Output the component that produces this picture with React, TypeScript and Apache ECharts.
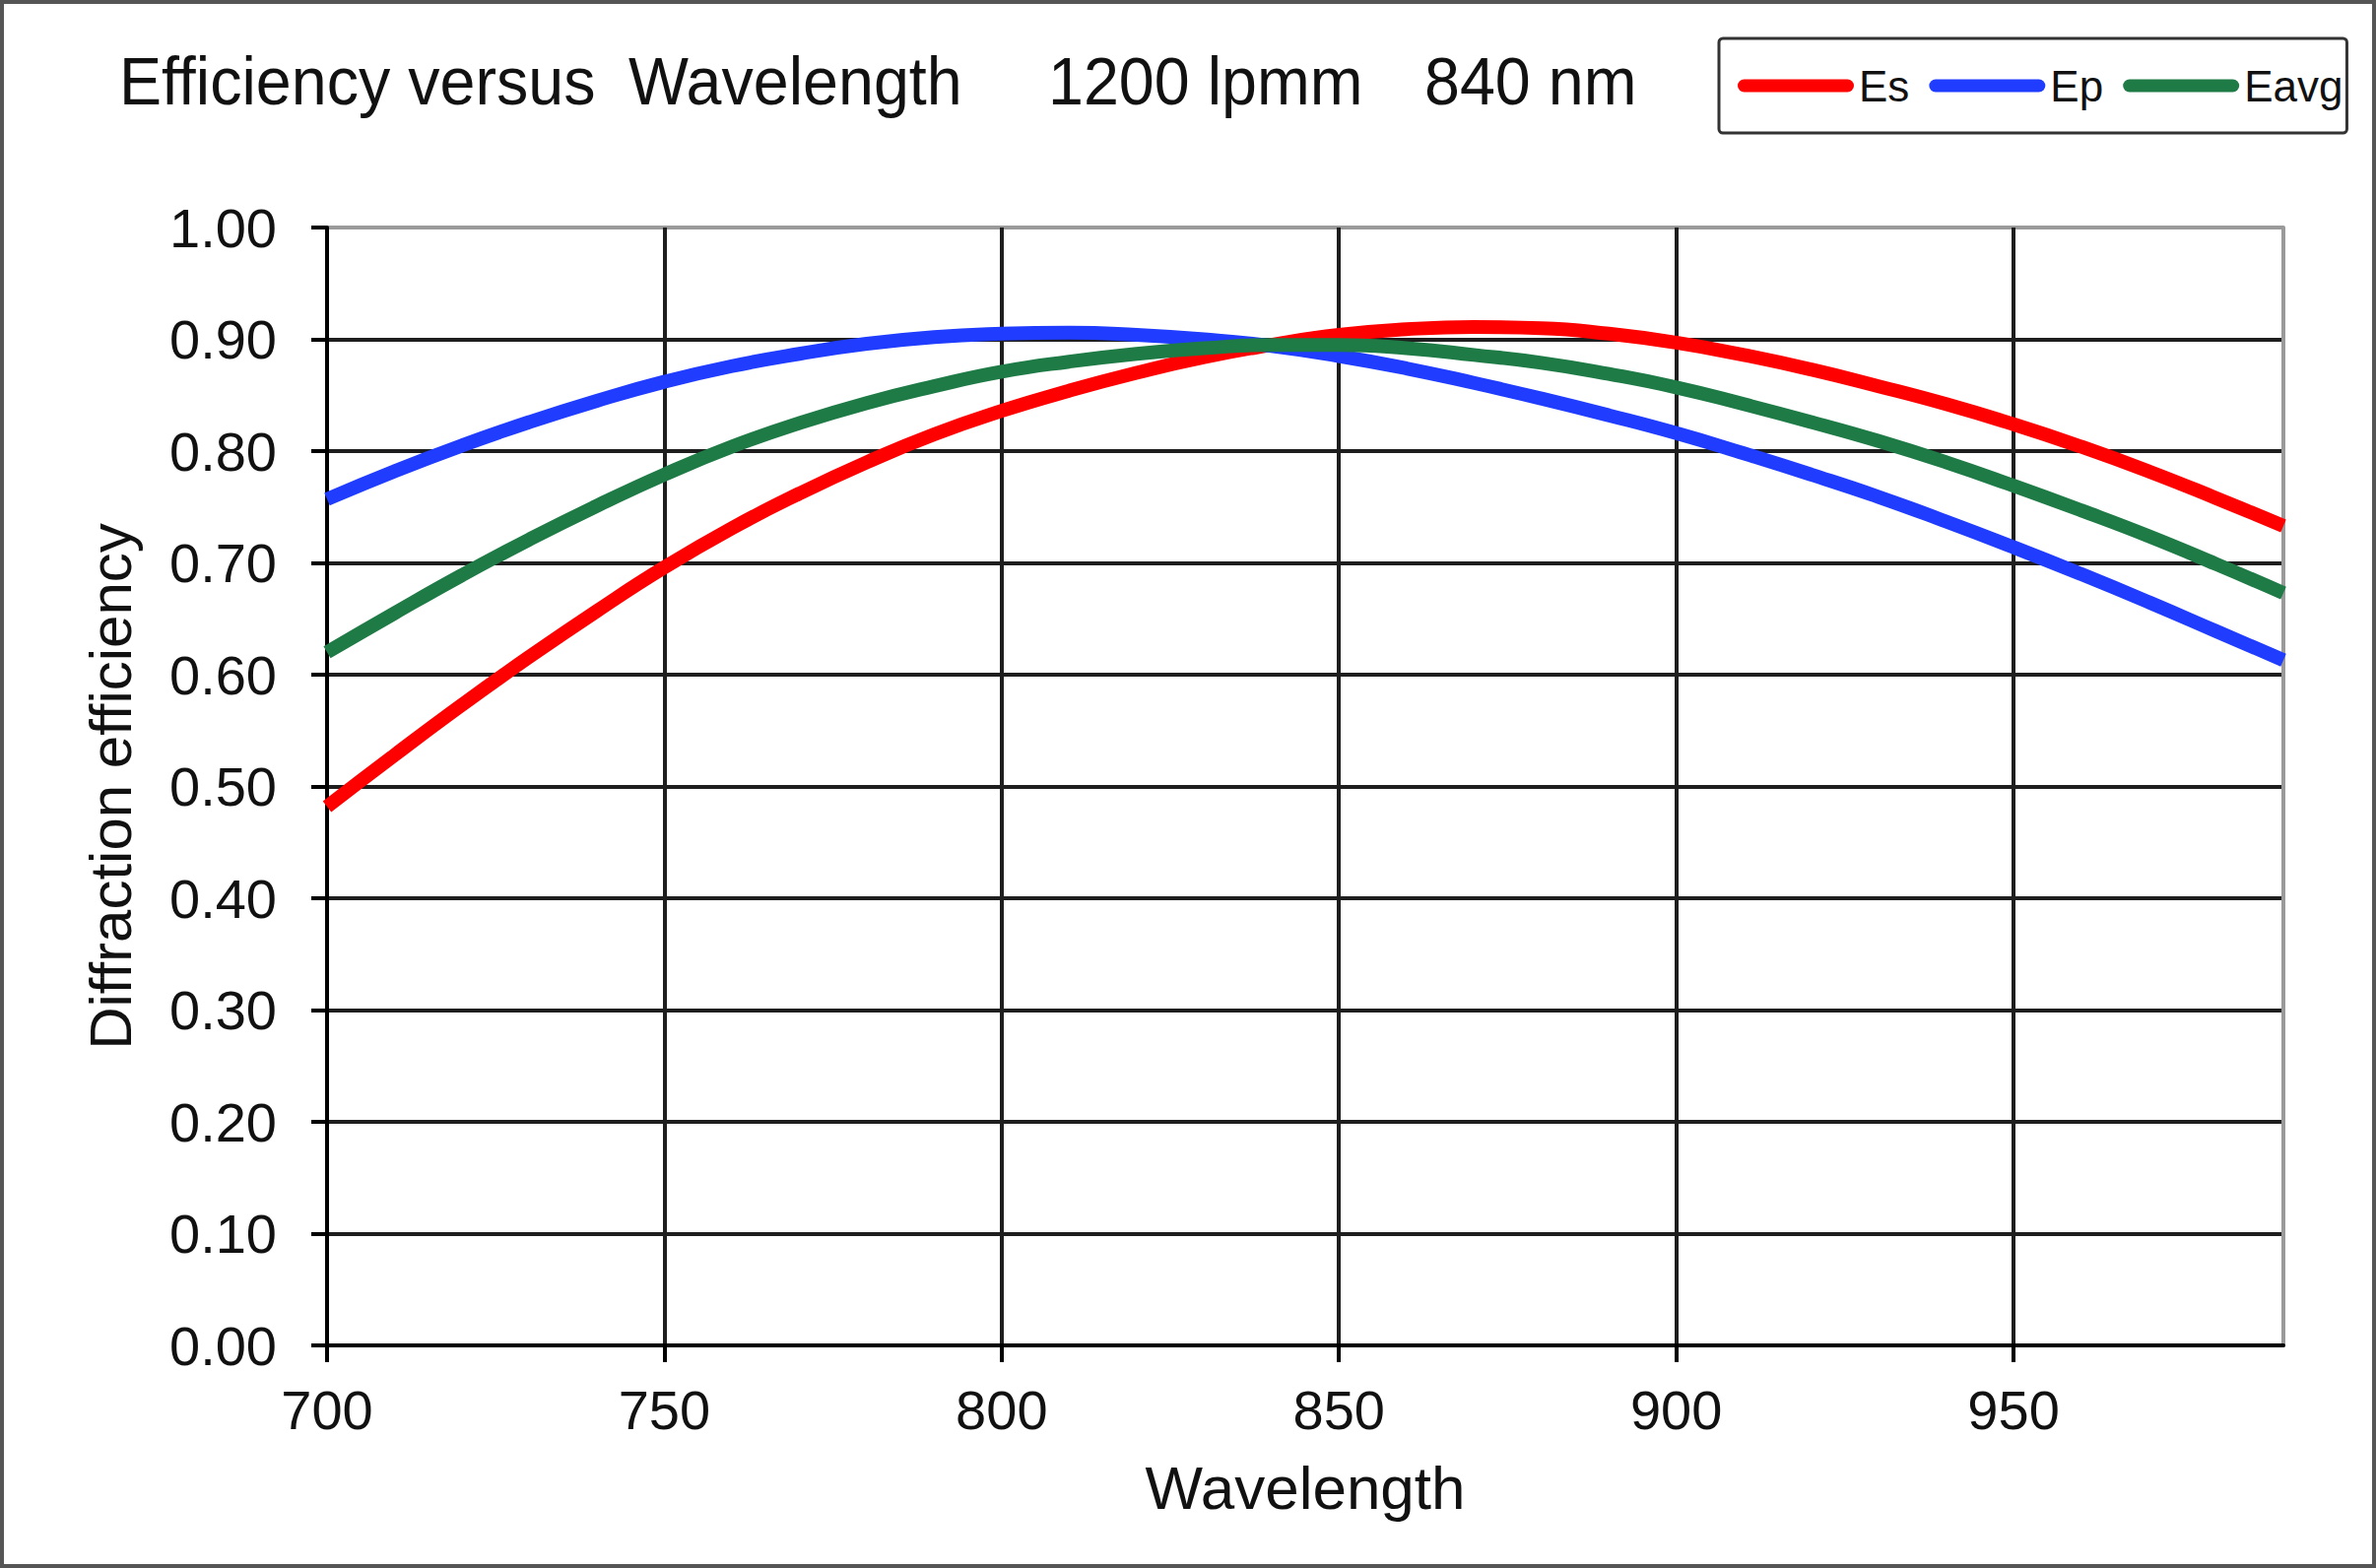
import React, { useEffect, useRef } from "react";
import * as echarts from "echarts";

const FONT = '"Liberation Sans", Arial, Helvetica, sans-serif';

const WAVELENGTH = [700, 710, 720, 730, 740, 750, 760, 770, 780, 790, 800, 810, 820, 830, 840, 850, 860, 870, 880, 890, 900, 910, 920, 930, 940, 950, 960, 970, 980, 990];
const ES = [0.482, 0.528, 0.573, 0.616, 0.657, 0.696, 0.731, 0.762, 0.790, 0.815, 0.836, 0.854, 0.870, 0.884, 0.895, 0.904, 0.909, 0.911, 0.910, 0.905, 0.897, 0.886, 0.873, 0.858, 0.842, 0.824, 0.804, 0.782, 0.758, 0.733];
const EP = [0.757, 0.782, 0.805, 0.826, 0.845, 0.862, 0.876, 0.887, 0.896, 0.902, 0.905, 0.906, 0.904, 0.900, 0.894, 0.885, 0.874, 0.861, 0.847, 0.832, 0.816, 0.798, 0.779, 0.759, 0.737, 0.714, 0.690, 0.665, 0.639, 0.613];
const EAVG = [0.620, 0.655, 0.689, 0.721, 0.751, 0.779, 0.804, 0.825, 0.843, 0.858, 0.871, 0.880, 0.887, 0.892, 0.895, 0.895, 0.892, 0.886, 0.879, 0.869, 0.857, 0.842, 0.826, 0.809, 0.790, 0.769, 0.747, 0.724, 0.699, 0.673];

const SERIES_NAMES = ["Es", "Ep", "Eavg"];
const SERIES_COLORS = ["#ff0000", "#1f3cff", "#1e7b46"];
const X_MIN = 700;
const X_MAX = 990;
const X_STEP = 50;
const X_TICKS = [700, 750, 800, 850, 900, 950];
const Y_MIN = 0;
const Y_MAX = 1;
const Y_STEP = 0.1;
const TITLE_PARTS = ["Efficiency versus", "Wavelength", "1200 lpmm", "840 nm"];
const X_NAME = "Wavelength";
const Y_NAME = "Diffraction efficiency";

export default function App() {
  const ref = useRef<HTMLDivElement | null>(null);

  useEffect(() => {
    if (!ref.current) return;
    const chart = echarts.init(ref.current, undefined, { renderer: "svg" });

    const seriesData = [ES, EP, EAVG];
    const yLineColors = ["#1e1e1e", "#1e1e1e", "#1e1e1e", "#1e1e1e", "#1e1e1e", "#1e1e1e", "#1e1e1e", "#1e1e1e", "#1e1e1e", "#1e1e1e", "#9a9a9a"];

    const titleX = [121, 638, 1064, 1446];

    const option: any = {
      animation: false,
      backgroundColor: "#ffffff",
      textStyle: { fontFamily: FONT },
      grid: { left: 332, right: 94, top: 231, bottom: 226, containLabel: false },
      legend: {
        data: SERIES_NAMES,
        left: 1745,
        top: 39,
        orient: "horizontal",
        padding: [26, 4, 26, 19],
        itemGap: 20,
        itemWidth: 118,
        itemHeight: 13,
        icon: "path://M6.5 0H111.5A6.5 6.5 0 0 1 111.5 13H6.5A6.5 6.5 0 0 1 6.5 0Z",
        borderColor: "#333",
        borderWidth: 3,
        borderRadius: 4,
        backgroundColor: "#ffffff",
        selectedMode: false,
        textStyle: { fontSize: 44, color: "#111", fontFamily: FONT },
      },
      graphic: [
        {
          type: "rect",
          silent: true,
          z: 100,
          shape: { x: 2, y: 2, width: 2408, height: 1588 },
          style: { fill: "none", stroke: "#555", lineWidth: 4 },
        },
        ...TITLE_PARTS.map((t, i) => ({
          type: "text",
          x: titleX[i],
          y: 82,
          scaleX: 0.95,
          silent: true,
          style: {
            text: t,
            fontSize: 68,
            fontFamily: FONT,
            fill: "#111",
            align: "left",
            verticalAlign: "middle",
          },
        })),
      ],
      xAxis: {
        type: "value",
        min: X_MIN,
        max: X_MAX,
        interval: X_STEP,
        name: X_NAME,
        nameLocation: "middle",
        nameGap: 144,
        nameTextStyle: { fontSize: 62, color: "#111", fontFamily: FONT, verticalAlign: "middle" },
        axisLine: { show: true, onZero: false, lineStyle: { color: "#000", width: 4 } },
        axisTick: { show: true, length: 17, customValues: X_TICKS, lineStyle: { color: "#000", width: 4 } },
        axisLabel: {
          fontSize: 56,
          color: "#111",
          fontFamily: FONT,
          margin: 65,
          verticalAlign: "middle",
          customValues: X_TICKS,
          formatter: (v: number) => (v === X_MAX ? "" : String(v)),
        },
        splitLine: { show: true, lineStyle: { color: "#1e1e1e", width: 4 } },
      },
      yAxis: [
        {
          type: "value",
          min: Y_MIN,
          max: Y_MAX,
          interval: Y_STEP,
          name: Y_NAME,
          nameLocation: "middle",
          nameGap: 220,
          nameRotate: 90,
          nameTextStyle: { fontSize: 60, color: "#111", fontFamily: FONT, verticalAlign: "middle" },
          axisLine: { show: true, onZero: false, lineStyle: { color: "#000", width: 4 } },
          axisTick: { show: true, length: 16, lineStyle: { color: "#000", width: 4 } },
          axisLabel: {
            fontSize: 56,
            color: "#111",
            fontFamily: FONT,
            margin: 51,
            formatter: (v: number) => v.toFixed(2),
          },
          splitLine: { show: true, lineStyle: { color: yLineColors, width: 4 } },
        },
        {
          type: "value",
          position: "right",
          min: Y_MIN,
          max: Y_MAX,
          interval: Y_STEP,
          axisLine: { show: true, onZero: false, lineStyle: { color: "#9a9a9a", width: 4 } },
          axisTick: { show: false },
          axisLabel: { show: false },
          splitLine: { show: false },
        },
      ],
      series: SERIES_NAMES.map((name, si) => ({
        name,
        type: "line",
        yAxisIndex: 0,
        data: WAVELENGTH.map((w, i) => [w, seriesData[si][i]]),
        showSymbol: false,
        symbol: "none",
        smooth: 0.5,
        z: 3 + si,
        lineStyle: { width: 14, color: SERIES_COLORS[si], cap: "butt" },
        itemStyle: { color: SERIES_COLORS[si] },
      })),
    };

    chart.setOption(option);
    return () => {
      chart.dispose();
    };
  }, []);

  return (
    <div
      ref={ref}
      style={{ position: "fixed", left: 0, top: 0, width: 2412, height: 1592, background: "#fff" }}
    />
  );
}
